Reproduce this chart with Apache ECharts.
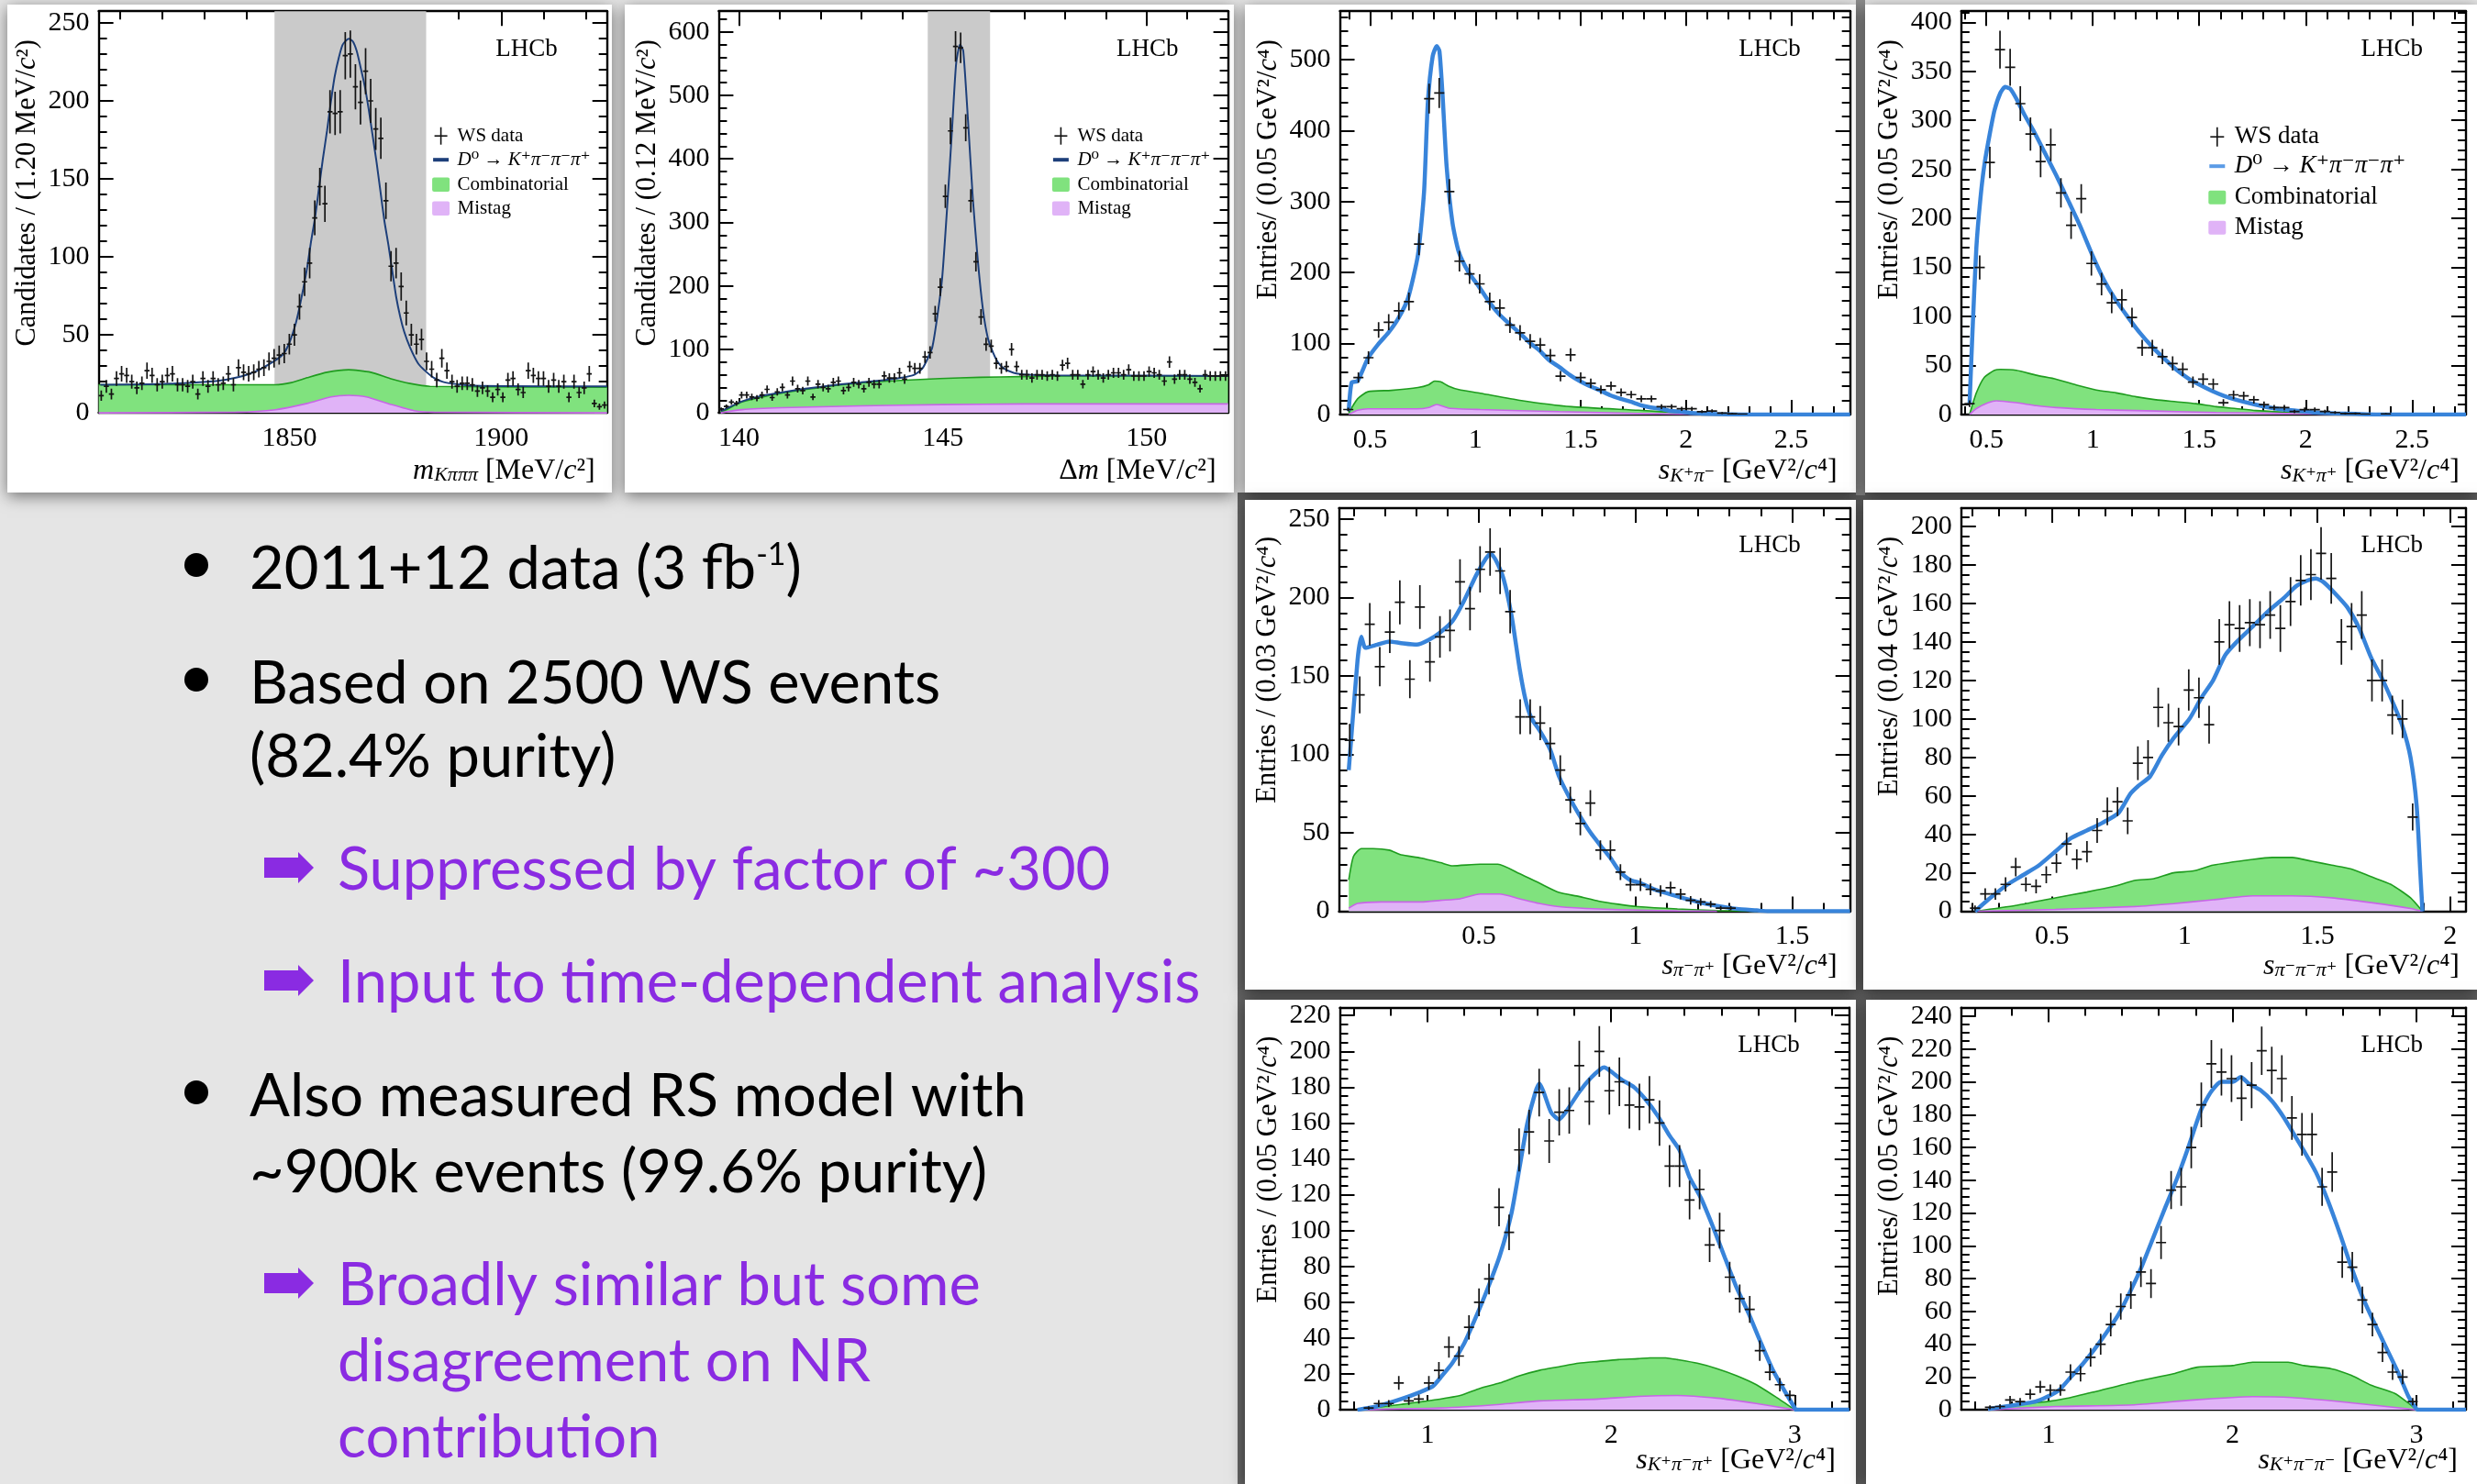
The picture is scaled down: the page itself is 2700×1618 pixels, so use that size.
<!DOCTYPE html>
<html><head><meta charset="utf-8">
<script src="https://cdn.jsdelivr.net/npm/echarts@6/dist/echarts.min.js"></script>
<style>html,body{margin:0;padding:0;background:#e5e5e5;}#c{width:2700px;height:1618px;}</style>
</head><body><div id="c"></div>
<script>
// ---------------- DATA ----------------
// Panel 1: m(K pi pi pi), 1.2 MeV bins from 1805
const p1X0 = 1805.6, p1Step = 1.2;
const p1Counts = [11,17,12,22,25,24,20,16,19,27,24,18,20,24,25,18,18,17,20,12,22,17,22,18,19,25,18,29,26,25,26,28,29,33,35,37,38,44,50,68,84,96,125,145,134,193,192,193,229,230,209,199,219,200,182,176,136,94,96,81,64,50,44,47,33,28,21,35,27,20,17,19,19,18,14,16,14,10,15,10,21,22,15,13,27,24,22,22,17,21,17,20,10,20,13,16,25,6,4,5];
const p1Fit = [[1805.4,18],[1818.7,18.4],[1832.7,20.4],[1837.4,22.5],[1842.1,26.6],[1846.7,33.7],[1848.6,37.8],[1850,44.9],[1851.4,56.2],[1852.3,66.4],[1853.3,79.7],[1854.2,93],[1855.1,109.4],[1856.1,125.7],[1857,144.1],[1857.9,162.5],[1858.9,180.9],[1859.8,199.3],[1860.7,215.6],[1861.7,227.9],[1862.6,236.1],[1864,239.8],[1865,238.1],[1865.9,232],[1866.8,221.8],[1867.8,209.5],[1868.7,195.2],[1869.6,178.9],[1870.6,160.5],[1871.5,142.1],[1872.4,123.7],[1873.4,107.4],[1874.3,91],[1875.2,74.6],[1876.2,61.3],[1877.1,52.1],[1878.5,41.9],[1880.4,31.7],[1882.2,26.6],[1884.1,22.5],[1886.9,19.4],[1893.5,17.4],[1925,17]];
const p1Comb = [[1805,18],[1846.7,18],[1850.5,19.4],[1854.2,22.5],[1858.9,26],[1864,27.6],[1869.2,26],[1873.8,22],[1878.5,18.8],[1883.2,17],[1925,16.4]];
const p1Mistag = [[1805,0],[1837.4,0.4],[1846.7,2],[1854.2,6],[1859.8,10.2],[1864,11.2],[1868.2,10.2],[1873.8,5.5],[1879.4,1.4],[1884.1,0.4],[1925,0]];
const p1Band = [1846.5, 1882.3];

// Panel 2: delta m, 0.125 MeV bins from 139.5
const p2X0 = 139.5625, p2Step = 0.125;
const p2Counts = [6,10,17,15,28,28,25,23,28,37,24,33,40,28,50,38,35,50,25,45,40,38,48,50,35,40,48,45,38,48,45,45,58,55,55,63,53,73,70,70,88,95,156,198,341,444,577,575,449,334,238,151,108,105,78,70,73,100,73,60,60,55,60,60,58,60,58,75,78,60,60,45,60,65,60,55,60,63,63,60,68,58,58,58,65,63,60,50,80,53,60,60,53,48,38,60,58,58,58,58];
const p2Fit = [[139.55,3],[139.63,5],[140.07,18],[140.5,26],[141.04,32],[141.5,37],[142.01,41],[142.5,45],[142.99,48],[143.5,51],[143.96,55],[144.3,60],[144.5,70],[144.625,85],[144.742,103],[144.868,153],[144.985,213],[145.112,329],[145.229,449],[145.327,550],[145.424,580],[145.502,570],[145.619,460],[145.735,339],[145.862,238],[145.988,161],[146.105,118],[146.232,95],[146.349,80],[146.495,70],[146.738,63],[147.079,60],[147.858,59],[150,58.5],[152,58]];
const p2Comb = [[139.55,2],[139.63,3],[140.07,17],[141.04,31],[142.01,40],[142.99,47],[143.96,51],[144.93,54],[145.91,56],[146.88,57],[147.85,58],[149.8,58],[152,57.5]];
const p2Mistag = [[139.55,0],[140.07,5],[141.04,8],[143,11],[145,13],[147,14],[152,14]];
const p2Band = [144.63, 146.16];

// Panel 3: s(K+ pi-)
const p3X0 = 0.396, p3Step = 0.048;
const p3Counts = [7,52,80,119,130,146,159,240,445,453,314,216,198,184,159,150,126,115,103,98,83,54,84,52,44,35,40,31,28,22,22,11,11,8,8,4,5,2,1,0.5];
const p3Fit = [[0.398,5],[0.412,45],[0.44,47],[0.489,79],[0.538,99],[0.586,115],[0.633,135],[0.68,164],[0.727,225],[0.756,314],[0.774,440],[0.797,505],[0.816,519],[0.829,512],[0.844,449],[0.863,350],[0.891,270],[0.921,229],[0.968,200],[1.017,180],[1.064,159],[1.113,141],[1.16,128],[1.209,115],[1.258,101],[1.305,90],[1.352,76],[1.398,67],[1.447,56],[1.496,47],[1.543,40],[1.592,34],[1.641,27],[1.69,22],[1.737,18],[1.786,13],[1.833,10],[1.882,8],[1.929,5],[1.977,4],[2.026,2],[2.075,1.3],[2.15,0.5],[2.263,0],[2.78,0]];
const p3Comb = [[0.398,2],[0.44,22],[0.489,32],[0.6,34],[0.727,38],[0.778,42],[0.806,47],[0.835,46],[0.872,40],[0.921,35],[1.023,30],[1.211,20],[1.455,11],[1.774,6],[2.0,2],[2.15,1],[2.338,0]];
const p3Mistag = [[0.398,0],[0.44,6],[0.489,8],[0.722,8],[0.78,10],[0.816,14],[0.872,9],[1.023,7],[1.398,4],[1.774,1.5],[1.962,0.5],[2.15,0]];

// Panel 4: s(K+ pi+)
const p4X0 = 0.421, p4Step = 0.0477;
const p4Counts = [11,150,257,372,354,317,286,258,275,226,193,220,154,133,114,117,99,68,68,59,52,46,33,36,31,12,20,19,15,10,7,7,3,5,5,3,2,1,1,0.3,0,0.5];
const p4Fit = [[0.421,10],[0.434,80],[0.453,170],[0.472,220],[0.491,255],[0.515,285],[0.538,310],[0.566,328],[0.588,334],[0.613,332],[0.641,322],[0.678,306],[0.725,288],[0.772,268],[0.828,244],[0.885,218],[0.941,192],[0.997,163],[1.053,137],[1.11,116],[1.166,99],[1.222,83],[1.279,69],[1.335,57],[1.391,46],[1.447,37],[1.504,30],[1.56,24],[1.616,19],[1.673,15],[1.766,10],[1.86,6],[1.954,4],[2.048,2],[2.142,1],[2.235,0.5],[2.329,0],[2.753,0]];
const p4Comb = [[0.421,0],[0.453,22],[0.491,38],[0.538,45],[0.566,46],[0.641,45],[0.735,40],[0.828,36],[0.922,30],[1.016,25],[1.11,22],[1.204,18],[1.297,15],[1.391,13],[1.485,11],[1.579,8],[1.673,6],[1.766,4],[1.954,2],[2.142,1],[2.329,0.3],[2.5,0]];
const p4Mistag = [[0.421,0],[0.453,6],[0.509,12],[0.547,14],[0.641,12],[0.735,9],[0.828,7],[1.016,5],[1.204,4],[1.391,3],[1.579,2],[1.766,1.5],[1.954,0.8],[2.142,0.3],[2.4,0]];

// Panel 5: s(pi- pi+)
const p5X0 = 0.088, p5Step = 0.032;
const p5Counts = [109,138,183,156,178,197,148,194,159,175,179,210,193,218,229,217,191,124,124,120,107,90,71,56,69,39,39,25,17,17,14,13,15,11,7,6,4.5,2,2];
const p5Fit = [[0.085,90],[0.113,160],[0.125,175],[0.138,168],[0.176,170],[0.214,172],[0.252,171],[0.302,170],[0.34,173],[0.378,178],[0.416,185],[0.453,198],[0.491,214],[0.523,225],[0.538,228],[0.554,224],[0.579,212],[0.605,188],[0.63,155],[0.649,135],[0.668,123],[0.695,115],[0.728,103],[0.756,86],[0.788,73],[0.819,62],[0.857,50],[0.888,42],[0.92,34],[0.951,25],[0.983,20],[1.016,18],[1.059,14],[1.109,11],[1.16,8],[1.21,5.5],[1.26,3.5],[1.323,1.6],[1.387,0.6],[1.424,0],[1.685,0]];
const p5Comb = [[0.085,20],[0.1,35],[0.125,40],[0.163,40],[0.214,39],[0.252,36],[0.315,34],[0.378,31],[0.416,29],[0.504,30],[0.561,30],[0.63,24],[0.693,18],[0.756,12],[0.819,9.5],[0.882,6.5],[0.945,4.5],[1.008,3],[1.134,1.5],[1.26,0.5],[1.387,0]];
const p5Mistag = [[0.085,2],[0.113,5],[0.189,6],[0.315,6],[0.378,7],[0.441,8],[0.504,11],[0.567,11],[0.63,8],[0.693,5],[0.756,3],[0.882,1.5],[1.008,0.8],[1.134,0.3],[1.26,0]];

// Panel 6: s(pi- pi- pi+)
const p6X0 = 0.21, p6Step = 0.03835;
const p6Counts = [1.7,9,9,14,23,14,13,19,25,35,27,31,42,52,57,47,77,80,106,98,96,115,111,97,140,149,147,150,149,154,147,161,172,175,186,173,140,148,154,120,120,102,100,49];
const p6Fit = [[0.21,0],[0.259,6],[0.333,14],[0.393,19],[0.452,24],[0.512,31],[0.571,38],[0.631,42],[0.69,46],[0.75,51],[0.795,61],[0.824,65],[0.869,70],[0.914,81],[0.958,90],[1.018,100],[1.063,111],[1.107,120],[1.152,133],[1.196,140],[1.256,148],[1.315,156],[1.375,163],[1.42,169],[1.464,172],[1.494,173],[1.524,171],[1.568,165],[1.613,158],[1.658,147],[1.702,132],[1.747,120],[1.792,106],[1.821,96],[1.851,80],[1.874,55],[1.888,20],[1.896,0]];
const p6Comb = [[0.21,0],[0.363,3],[0.512,7],[0.631,10],[0.735,13],[0.81,16],[0.884,17],[0.958,20],[1.033,21],[1.107,24],[1.256,27],[1.33,28],[1.405,28],[1.479,26],[1.554,24],[1.628,22],[1.702,18],[1.777,14],[1.851,7],[1.896,0]];
const p6Mistag = [[0.21,0],[0.512,1],[0.81,2.5],[0.958,4],[1.107,6],[1.256,8],[1.405,8],[1.554,7],[1.702,4.5],[1.851,1.5],[1.896,0]];

// Panel 7: s(K+ pi- pi+)
const p7X0 = 0.68, p7Step = 0.0546;
const p7Counts = [1,3.5,3.5,15,5,6,15,22,35,30,46,60,73,113,99,145,155,177,150,166,167,192,172,200,178,183,170,169,173,160,136,136,117,123,92,100,74,62,56,33,21,14,8];
const p7Fit = [[0.619,0],[0.727,2],[0.856,6],[0.963,10],[1.028,13],[1.071,18],[1.135,26],[1.2,37],[1.265,52],[1.329,68],[1.394,86],[1.458,110],[1.501,135],[1.544,160],[1.587,177],[1.609,182],[1.63,178],[1.673,166],[1.716,162],[1.759,167],[1.824,177],[1.888,185],[1.942,190],[1.963,191],[1.996,189],[2.06,184],[2.125,180],[2.189,173],[2.254,164],[2.318,153],[2.372,145],[2.426,130],[2.49,118],[2.555,102],[2.619,85],[2.684,68],[2.748,54],[2.813,38],[2.877,23],[2.942,11],[3.0,1],[3.006,0],[3.297,0]];
const p7Comb = [[0.619,0],[0.856,3],[1.006,5],[1.178,8],[1.286,12],[1.394,15],[1.501,19],[1.609,22],[1.716,24],[1.824,26],[1.931,27],[2.039,28],[2.146,28.5],[2.211,29],[2.297,29],[2.361,28],[2.469,26],[2.576,23],[2.684,19],[2.791,14],[2.899,7],[3.0,0]];
const p7Mistag = [[0.619,0],[1.071,1],[1.394,3],[1.609,5],[1.931,6],[2.146,7.5],[2.361,8],[2.576,6.5],[2.791,3.5],[3.0,0]];

// Panel 8: s(K+ pi- pi-)
const p8X0 = 0.682, p8Step = 0.0547;
const p8Counts = [1.5,2,6,5,9.5,14,12,12,23,22,32,40,52,63,70,84,77,102,134,136,160,186,211,206,202,190,198,219,207,202,178,168,168,136,145,90,87,67,52,35,23,20,5];
const p8Fit = [[0.672,0.5],[0.822,3],[0.929,5],[0.994,8],[1.058,12],[1.122,20],[1.187,28],[1.251,37],[1.315,47],[1.38,58],[1.444,72],[1.509,88],[1.573,106],[1.637,124],[1.702,142],[1.766,162],[1.83,183],[1.884,194],[1.938,200],[2.002,200],[2.045,203],[2.088,199],[2.152,195],[2.217,188],[2.281,178],[2.324,170],[2.388,158],[2.453,145],[2.517,128],[2.582,108],[2.646,87],[2.71,68],[2.775,52],[2.839,37],[2.903,22],[2.957,8],[3.0,0.5],[3.02,0],[3.269,0]];
const p8Comb = [[0.672,0],[0.8,3],[0.994,5],[1.101,7],[1.251,11],[1.466,17],[1.68,22],[1.809,26],[2.002,27],[2.109,29],[2.217,29],[2.303,29],[2.388,27],[2.539,25],[2.646,21],[2.753,15],[2.882,10],[2.957,4],[3.0,0]];
const p8Mistag = [[0.672,0],[1.036,2],[1.466,3],[1.788,6],[2.109,8],[2.324,7.5],[2.539,5.5],[2.753,3],[3.0,0]];

// Texts
const yTitles = ['Candidates / (1.20 MeV/{i|c}²)','Candidates / (0.12 MeV/{i|c}²)','Entries/ (0.05 GeV²/{i|c}⁴)','Entries/ (0.05 GeV²/{i|c}⁴)','Entries / (0.03 GeV²/{i|c}⁴)','Entries/ (0.04 GeV²/{i|c}⁴)','Entries / (0.05 GeV²/{i|c}⁴)','Entries/ (0.05 GeV²/{i|c}⁴)'];
const xTitles = ['{i|m}{s|Kπππ} [MeV/{i|c}²]','Δ{i|m} [MeV/{i|c}²]','{i|s}{s|K⁺π⁻} [GeV²/{i|c}⁴]','{i|s}{s|K⁺π⁺} [GeV²/{i|c}⁴]','{i|s}{s|π⁻π⁺} [GeV²/{i|c}⁴]','{i|s}{s|π⁻π⁻π⁺} [GeV²/{i|c}⁴]','{i|s}{s|K⁺π⁻π⁺} [GeV²/{i|c}⁴]','{i|s}{s|K⁺π⁻π⁻} [GeV²/{i|c}⁴]'];
const legendLabels = ['WS data','{i|D}⁰ → {i|K}⁺{i|π}⁻{i|π}⁻{i|π}⁺','Combinatorial','Mistag'];
const bulletLines = [
  {t:'2011+12 data (3 fb{sup|-1})', kind:'b', base:638},
  {t:'Based on 2500 WS events', kind:'b', base:763},
  {t:'(82.4% purity)', kind:'c', base:843},
  {t:'Suppressed by factor of ~300', kind:'a', base:966},
  {t:'Input to time-dependent analysis', kind:'a', base:1089},
  {t:'Also measured RS model with', kind:'b', base:1213},
  {t:'~900k events (99.6% purity)', kind:'c', base:1296},
  {t:'Broadly similar but some', kind:'a', base:1419},
  {t:'disagreement on NR', kind:'ac', base:1502},
  {t:'contribution', kind:'ac', base:1585}
];

// ---------------- LAYOUT ----------------
const SERIF = '"Liberation Serif","DejaVu Serif",serif';
const LAY = [
 {g:[107.6,12.2,554.1,437.9], xr:[1805,1925], yr:[0,257.5], xt:[50,10], yt:[50,10], xtDx:-13, xtDy:73, lhDx:-54, leg:'small'},
 {g:[783.4,12.2,555.2,437.9], xr:[139.5,152], yr:[0,632.6], xt:[5,1], yt:[100,20], xtDx:-13, xtDy:73, lhDx:-54, leg:'small'},
 {g:[1460.5,12.2,556.2,439.7], xr:[0.356,2.78], yr:[0,568.2], xt:[0.5,0.1], yt:[100,20], xtDx:-14, xtDy:72, lhDx:-54},
 {g:[2137.8,12.2,550.2,439.7], xr:[0.382,2.753], yr:[0,411.3], xt:[0.5,0.1], yt:[50,10], xtDx:-7, xtDy:72, lhDx:-47, leg:'big'},
 {g:[1459.6,553.9,557.1,439.7], xr:[0.054,1.685], yr:[0,257.1], xt:[0.5,0.1], yt:[50,10], xtDx:-14, xtDy:70, lhDx:-54},
 {g:[2137.8,553.9,550.2,439.7], xr:[0.158,2.06], yr:[0,209.6], xt:[0.5,0.1], yt:[20,5], xtDx:-7, xtDy:70, lhDx:-47},
 {g:[1460.5,1098.6,555.3,438.5], xr:[0.523,3.297], yr:[0,224.4], xt:[1,0.2], yt:[20,5], xtDx:-15, xtDy:65, lhDx:-54},
 {g:[2137.8,1098.6,550.2,438.5], xr:[0.526,3.269], yr:[0,245.3], xt:[1,0.2], yt:[20,5], xtDx:-9, xtDy:65, lhDx:-47}
];
const BOXES = [[8,5,659,532],[681,5,664,532],[1357,5,666,532],[2033,5,667,532],[1357,545,666,534],[2031,545,669,534],[1357,1090,666,528],[2034,1090,666,528]];
const PD = [
 {x0:p1X0, step:p1Step, counts:p1Counts, fit:p1Fit, comb:p1Comb, mis:p1Mistag, band:p1Band, fitColor:'#1d3f7a', fitW:2},
 {x0:p2X0, step:p2Step, counts:p2Counts, fit:p2Fit, comb:p2Comb, mis:p2Mistag, band:p2Band, fitColor:'#1d3f7a', fitW:2},
 {x0:p3X0, step:p3Step, counts:p3Counts, fit:p3Fit, comb:p3Comb, mis:p3Mistag},
 {x0:p4X0, step:p4Step, counts:p4Counts, fit:p4Fit, comb:p4Comb, mis:p4Mistag},
 {x0:p5X0, step:p5Step, counts:p5Counts, fit:p5Fit, comb:p5Comb, mis:p5Mistag},
 {x0:p6X0, step:p6Step, counts:p6Counts, fit:p6Fit, comb:p6Comb, mis:p6Mistag},
 {x0:p7X0, step:p7Step, counts:p7Counts, fit:p7Fit, comb:p7Comb, mis:p7Mistag},
 {x0:p8X0, step:p8Step, counts:p8Counts, fit:p8Fit, comb:p8Comb, mis:p8Mistag}
];

function ticks(min, max, step){
  const out=[]; const k0=Math.ceil(min/step-1e-9), k1=Math.floor(max/step+1e-9);
  for(let k=k0;k<=k1;k++) out.push(Math.round(k*step*1e6)/1e6);
  return out;
}
function without(a,b){ return a.filter(v=>!b.some(w=>Math.abs(w-v)<1e-9)); }
const fmt = v => String(Math.round(v*1e6)/1e6);

function axisDef(dim, gi, pos, range, tickVals, labelVals, line, len){
  return {
    gridIndex: gi, type:'value', position: pos, min: range[0], max: range[1],
    axisLine:{show: line, onZero:false, lineStyle:{color:'#000', width:2.4}},
    axisTick:{show:true, inside:true, length:len, customValues:tickVals, lineStyle:{color:'#000', width:2}},
    axisLabel: labelVals ? {show:true, customValues:labelVals, formatter:fmt, fontFamily:SERIF, fontSize:30, color:'#000', margin: dim==='x'?13:10} : {show:false},
    splitLine:{show:false}, splitArea:{show:false}, axisPointer:{show:false}
  };
}

const option = {animation:false, backgroundColor:'#e5e5e5', grid:[], xAxis:[], yAxis:[], series:[], graphic:{elements:[]}};
const G = option.graphic.elements;

// backgrounds
G.push({type:'rect', z:-10, silent:true, shape:{x:1349,y:537,width:1351,height:1081}, style:{fill:'#646464'}});
G.push({type:'rect', z:-10, silent:true, shape:{x:2023,y:0,width:10,height:540}, style:{fill:'#8e8e8e'}});
BOXES.forEach(b=>G.push({type:'rect', z:-9, silent:true, shape:{x:b[0],y:b[1],width:b[2],height:b[3]}, style:{fill:'#ffffff', shadowBlur:16, shadowColor:'rgba(0,0,0,0.5)', shadowOffsetY:4}}));

LAY.forEach((L,i)=>{
  const [gx,gy,gw,gh] = L.g;
  option.grid.push({left:gx, top:gy, width:gw, height:gh, show:false, containLabel:false, outerBoundsMode:'none'});
  const xM = ticks(L.xr[0],L.xr[1],L.xt[0]), xm = without(ticks(L.xr[0],L.xr[1],L.xt[1]), xM);
  const yM = ticks(L.yr[0],L.yr[1],L.yt[0]), ym = without(ticks(L.yr[0],L.yr[1],L.yt[1]), yM);
  option.xAxis.push(axisDef('x',i,'bottom',L.xr,xM,xM,true,16));
  option.xAxis.push(axisDef('x',i,'bottom',L.xr,xm,null,false,9));
  option.xAxis.push(axisDef('x',i,'top',L.xr,xM,null,true,16));
  option.xAxis.push(axisDef('x',i,'top',L.xr,xm,null,false,9));
  option.yAxis.push(axisDef('y',i,'left',L.yr,yM,yM,true,16));
  option.yAxis.push(axisDef('y',i,'left',L.yr,ym,null,false,9));
  option.yAxis.push(axisDef('y',i,'right',L.yr,yM,null,true,16));
  option.yAxis.push(axisDef('y',i,'right',L.yr,ym,null,false,9));

  const D = PD[i];
  const ax = {xAxisIndex:i*4, yAxisIndex:i*4};
  if (D.band){
    option.series.push(Object.assign({type:'custom', z:1, silent:true, data:[D.band],
      renderItem:(params, api)=>{
        const a = api.coord([api.value(0), 0]), b = api.coord([api.value(1), 0]);
        const cs = params.coordSys;
        return {type:'rect', shape:{x:a[0], y:cs.y, width:b[0]-a[0], height:cs.height}, style:{fill:'#cacaca'}};
      }}, ax));
  }
  option.series.push(Object.assign({type:'line', z:2, silent:true, data:D.comb, symbol:'none', showSymbol:false, smooth:0.2,
    lineStyle:{color:'#1f9c1f', width:1.6}, areaStyle:{color:'#80e27e', opacity:1}}, ax));
  option.series.push(Object.assign({type:'line', z:3, silent:true, data:D.mis, symbol:'none', showSymbol:false, smooth:0.2,
    lineStyle:{color:'#c766e6', width:1.6}, areaStyle:{color:'#e0b3f7', opacity:1}}, ax));
  option.series.push(Object.assign({type:'line', z:4, silent:true, data:D.fit, symbol:'none', showSymbol:false, smooth:0.2,
    lineStyle:{color: D.fitColor || '#3884da', width: D.fitW || 4.5}}, ax));
  const step = D.step;
  option.series.push(Object.assign({type:'custom', z:6, silent:true, clip:true,
    data: D.counts.map((c,k)=>[D.x0 + k*step, c]),
    renderItem:(params, api)=>{
      const x = api.value(0), y = api.value(1);
      if (!(y > 0)) return null;
      const e = Math.sqrt(y), hw = step/2;
      const p = api.coord([x,y]), l = api.coord([x-hw,y]), r = api.coord([x+hw,y]);
      const t = api.coord([x,y+e]), b = api.coord([x,Math.max(0,y-e)]);
      const st = {stroke:'#141414', lineWidth:1.7};
      return {type:'group', children:[
        {type:'line', shape:{x1:l[0],y1:p[1],x2:r[0],y2:p[1]}, style:st},
        {type:'line', shape:{x1:p[0],y1:t[1],x2:p[0],y2:b[1]}, style:st}
      ]};
    }}, ax));

  // LHCb label
  G.push({type:'text', z:50, silent:true, x:gx+gw+L.lhDx, y:gy+28, style:{text:'LHCb', fontFamily:SERIF, fontSize:27, fill:'#000', align:'right', textAlign:'right', verticalAlign:'top', textVerticalAlign:'top'}});
  // y title
  G.push({type:'text', z:50, silent:true, x:gx-93, y:gy+31, rotation:Math.PI/2, style:{text:yTitles[i], fontFamily:SERIF, fontSize:30.5, fill:'#000', align:'right', textAlign:'right', verticalAlign:'top', textVerticalAlign:'top',
    rich:{i:{fontStyle:'italic', fontFamily:SERIF, fontSize:30.5}}}});
  // x title
  G.push({type:'text', z:50, silent:true, x:gx+gw+L.xtDx, y:gy+gh+L.xtDy-10, style:{text:xTitles[i], fontFamily:SERIF, fontSize:32, fill:'#000', align:'right', textAlign:'right', verticalAlign:'middle', textVerticalAlign:'middle',
    rich:{i:{fontStyle:'italic', fontFamily:SERIF, fontSize:32}, s:{fontStyle:'italic', fontFamily:SERIF, fontSize:22, lineHeight:10, verticalAlign:'bottom'}}}});
  // legend
  if (L.leg){
    const big = L.leg === 'big';
    const rows = big ? [137,169,203,236] : [136,162,189,215];
    const mx = gx + (big ? 279 : 373), tx = gx + (big ? 298 : 391);
    const fs = big ? 27 : 21;
    const crossH = big ? 21 : 19, crossW = big ? 15 : 14, boxW = 19, boxH = big ? 15 : 15.5;
    const fitC = big ? '#5b9be6' : '#1d3f7a';
    G.push({type:'line', z:50, silent:true, shape:{x1:mx-crossW/2, y1:gy+rows[0], x2:mx+crossW/2, y2:gy+rows[0]}, style:{stroke:'#111', lineWidth:1.6}});
    G.push({type:'line', z:50, silent:true, shape:{x1:mx, y1:gy+rows[0]-crossH/2, x2:mx, y2:gy+rows[0]+crossH/2}, style:{stroke:'#111', lineWidth:1.6}});
    G.push({type:'rect', z:50, silent:true, shape:{x:mx-8.5, y:gy+rows[1]-2, width:17, height:4}, style:{fill:fitC}});
    G.push({type:'rect', z:50, silent:true, shape:{x:mx-boxW/2, y:gy+rows[2]-boxH/2, width:boxW, height:boxH, r:2}, style:{fill:'#80e27e'}});
    G.push({type:'rect', z:50, silent:true, shape:{x:mx-boxW/2, y:gy+rows[3]-boxH/2, width:boxW, height:boxH, r:2}, style:{fill:'#e0b3f7'}});
    legendLabels.forEach((t,k)=>{
      G.push({type:'text', z:50, silent:true, x:tx, y:gy+rows[k], style:{text:t, fontFamily:SERIF, fontSize:fs, fill:'#000', align:'left', textAlign:'left', verticalAlign:'middle', textVerticalAlign:'middle',
        rich:{i:{fontStyle:'italic', fontFamily:SERIF, fontSize:fs}}}});
    });
  }
});

// bullet text block
const SANS = 'Lato,"Open Sans",sans-serif';
bulletLines.forEach(b=>{
  const purple = b.kind==='a' || b.kind==='ac';
  const color = purple ? '#8a2be2' : '#000';
  const tx = purple ? 368 : 272;
  if (b.kind==='b') G.push({type:'circle', z:50, silent:true, shape:{cx:214, cy:b.base-22, r:13}, style:{fill:'#000'}});
  if (b.kind==='a'){
    const cy = b.base-20;
    G.push({type:'polygon', z:50, silent:true, shape:{points:[[288,cy-11],[325,cy-11],[325,cy-17],[342,cy],[325,cy+17],[325,cy+11],[288,cy+11]]}, style:{fill:'#8a2be2'}});
  }
  G.push({type:'text', z:50, silent:true, x:tx, y:b.base-17, style:{text:b.t, fontFamily:SANS, fontSize:65, fill:color, align:'left', textAlign:'left', verticalAlign:'middle', textVerticalAlign:'middle',
    rich:{sup:{fontFamily:SANS, fontSize:34, fill:color, verticalAlign:'top', lineHeight:32}}}});
});

const chart = echarts.init(document.getElementById('c'), null, {renderer:'canvas', width:2700, height:1618});
chart.setOption(option);
</script></body></html>
